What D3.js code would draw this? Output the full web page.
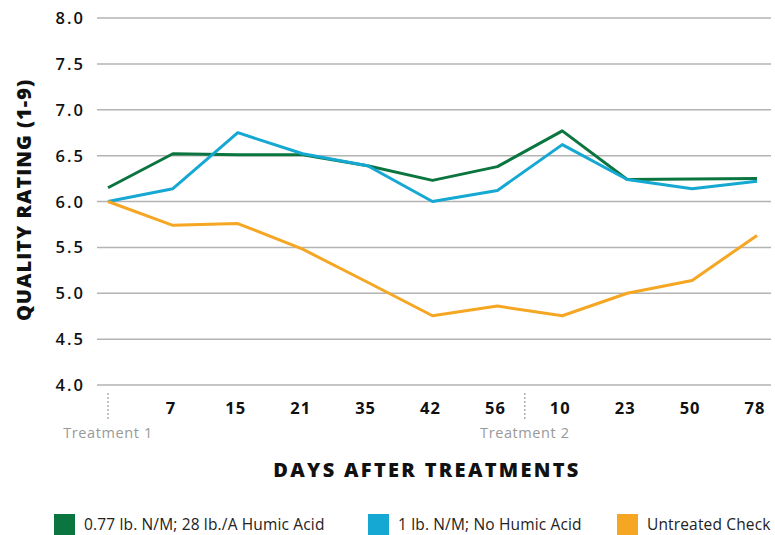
<!DOCTYPE html>
<html>
  <head>
    <meta charset="utf-8" />
    <title>Quality rating</title>
    <script src="https://d3js.org/d3.v7.min.js"></script>
    <style>
      body { margin: 0; background: #fff; }
      text { font-family: "Open Sans", sans-serif; }
    </style>
  </head>
  <body>
    <svg width="775" height="535" id="chart"></svg>

    <script>
      // x categories: first point is treatment 1 day 0 (no label)
      var days = ["", "7", "15", "21", "35", "42", "56", "10", "23", "50", "78"];
      var yTicks = [4.0, 4.5, 5.0, 5.5, 6.0, 6.5, 7.0, 7.5, 8.0];

      var humic = [6.15, 6.52, 6.51, 6.51, 6.39, 6.23, 6.38, 6.77, 6.24, 6.245, 6.25];
      var noHumic = [6.0, 6.14, 6.75, 6.52, 6.39, 6.0, 6.12, 6.62, 6.24, 6.14, 6.22];
      var untreated = [6.0, 5.74, 5.76, 5.48, 5.12, 4.755, 4.86, 4.755, 5.0, 5.14, 5.63];

      var seriesNames = ["0.77 lb. N/M; 28 lb./A Humic Acid", "1 lb. N/M; No Humic Acid", "Untreated Check"];
      var seriesColors = ["#0b7540", "#14a8d2", "#f5a623"];
      var allSeries = [humic, noHumic, untreated];

      var svg = d3.select("#chart");

      // scales
      var x = d3.scalePoint()
          .domain(d3.range(days.length))
          .range([108, 757]);

      var y = d3.scaleLinear()
          .domain([4, 8])
          .range([385, 18]);

      // gridlines
      svg.append("g")
          .selectAll("line")
          .data(yTicks)
          .join("line")
          .attr("x1", 97)
          .attr("x2", 771)
          .attr("y1", function(d) { return y(d); })
          .attr("y2", function(d) { return y(d); })
          .style("stroke", "#b3b3b3")
          .style("stroke-width", 1.5);

      // y tick labels
      svg.append("g")
          .selectAll("text")
          .data(yTicks)
          .join("text")
          .attr("x", 85)
          .attr("y", function(d) { return y(d) + 6; })
          .attr("text-anchor", "end")
          .style("font-size", "16.5px")
          .style("font-weight", "600")
          .style("letter-spacing", "2px")
          .style("fill", "#111")
          .text(function(d) { return d.toFixed(1); });

      // x tick labels
      svg.append("g")
          .selectAll("text")
          .data(days)
          .join("text")
          .attr("x", function(d, i) { return x(i) - 2; })
          .attr("y", 414)
          .attr("text-anchor", "middle")
          .style("font-size", "16.5px")
          .style("font-weight", "700")
          .style("letter-spacing", "1px")
          .style("fill", "#111")
          .text(function(d) { return d; });

      // treatment markers
      var treatments = [{ label: "Treatment 1", at: 0 }, { label: "Treatment 2", at: 6.5 }];
      var step = x.step();
      treatments.forEach(function(t) {
          var tx = x(0) + t.at * step - (t.at > 0 ? 5 : 0);
          svg.append("line")
              .attr("x1", tx).attr("x2", tx)
              .attr("y1", 393).attr("y2", 420)
              .style("stroke", "#888")
              .style("stroke-width", 1)
              .style("stroke-dasharray", "2,2");
          svg.append("text")
              .attr("x", tx)
              .attr("y", 438)
              .attr("text-anchor", "middle")
              .style("font-size", "14.5px")
              .style("letter-spacing", "0.6px")
              .style("fill", "#999")
              .text(t.label);
      });

      // lines
      var line = d3.line()
          .x(function(d, i) { return x(i); })
          .y(function(d) { return y(d); });

      svg.append("g")
          .selectAll("path")
          .data(allSeries)
          .join("path")
          .attr("d", line)
          .style("fill", "none")
          .style("stroke", function(d, i) { return seriesColors[i]; })
          .style("stroke-width", 3)
          .style("stroke-linejoin", "round");

      // axis titles
      svg.append("text")
          .attr("transform", "translate(31,200) rotate(-90)")
          .attr("text-anchor", "middle")
          .style("font-size", "20px")
          .style("font-weight", "800")
          .style("letter-spacing", "1px")
          .style("fill", "#111")
          .text("QUALITY RATING (1-9)");

      svg.append("text")
          .attr("x", 427)
          .attr("y", 477)
          .attr("text-anchor", "middle")
          .style("font-size", "20px")
          .style("font-weight", "800")
          .style("letter-spacing", "2.3px")
          .style("fill", "#111")
          .text("DAYS AFTER TREATMENTS");

      // legend
      var legendX = [54, 368, 617];
      var legend = svg.append("g")
          .selectAll("g")
          .data(seriesNames)
          .join("g")
          .attr("transform", function(d, i) { return "translate(" + legendX[i] + ",514)"; });

      legend.append("rect")
          .attr("width", 21)
          .attr("height", 21)
          .style("fill", function(d, i) { return seriesColors[i]; });

      legend.append("text")
          .attr("x", 30)
          .attr("y", 16)
          .style("font-size", "15.5px")
          .style("letter-spacing", "0.15px")
          .style("fill", "#222")
          .text(function(d) { return d; });
    </script>
  </body>
</html>
